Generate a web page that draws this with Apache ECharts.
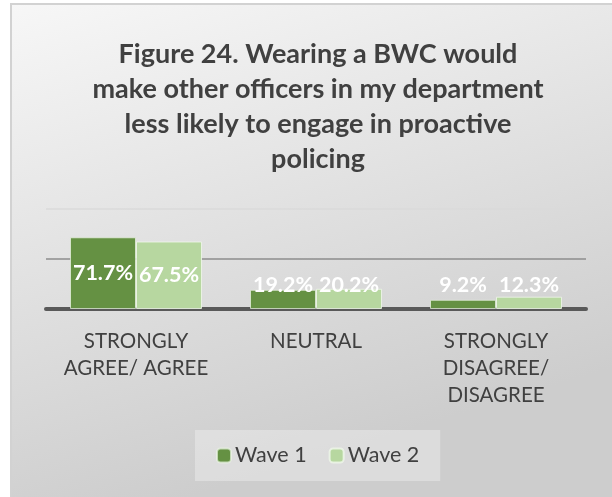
<!DOCTYPE html>
<html>
<head>
<meta charset="utf-8">
<style>
  html, body { margin: 0; padding: 0; background: #ffffff; }
  #chart { width: 612px; height: 497px; }
</style>
<script src="https://cdn.jsdelivr.net/npm/echarts@6/dist/echarts.min.js"></script>
</head>
<body>
<div id="chart"></div>
<script>
// Survey responses, percent of officers
const categories = ['STRONGLY\nAGREE/ AGREE', 'NEUTRAL', 'STRONGLY\nDISAGREE/\nDISAGREE'];
const wave1 = [71.7, 19.2, 9.2];
const wave2 = [67.5, 20.2, 12.3];
const seriesNames = ['Wave 1', 'Wave 2'];
const titleText = 'Figure 24. Wearing a BWC would\nmake other officers in my department\nless likely to engage in proactive\npolicing';

const FONT = 'Lato, "Open Sans", sans-serif';
const TEXT = '#404040';
const DARK = '#659143';
const LIGHT = '#b7d7a0';

// Tall bars carry their value in the middle; short bars get it lifted off the base.
function withLabels(values) {
  return values.map(function (v) {
    if (v > 40) {
      return { value: v, label: { position: 'inside' } };
    }
    return { value: v, label: { position: 'insideBottom', distance: 13 } };
  });
}

const barLabel = {
  show: true,
  color: '#ffffff',
  fontFamily: FONT,
  fontWeight: 'bold',
  fontSize: 21.5,
  formatter: function (p) { return p.value.toFixed(1) + '%'; }
};

const chart = echarts.init(document.getElementById('chart'), null, { renderer: 'canvas' });

chart.setOption({
  animation: false,
  backgroundColor: '#ffffff',
  graphic: [{
    type: 'rect',
    z: -10,
    silent: true,
    shape: { x: 11, y: 4, width: 610, height: 500 },
    style: {
      fill: new echarts.graphic.LinearGradient(0, 0, 0.25, 1, [
        { offset: 0, color: '#f7f7f7' },
        { offset: 1, color: '#cdcdcd' }
      ]),
      stroke: '#d2d2d2',
      lineWidth: 2
    }
  }],
  title: {
    text: titleText,
    left: 313,
    textAlign: 'center',
    top: 32,
    textStyle: {
      fontFamily: FONT,
      fontWeight: 'bold',
      fontSize: 27,
      lineHeight: 35,
      color: TEXT
    }
  },
  legend: {
    data: seriesNames,
    top: 430,
    left: 195,
    itemWidth: 14,
    itemHeight: 14,
    itemGap: 22,
    padding: [13, 21, 13, 21],
    backgroundColor: 'rgba(255,255,255,0.3)',
    textStyle: { fontFamily: FONT, fontSize: 21.5, color: TEXT, lineHeight: 25, padding: [0, 0, 0, -1] }
  },
  grid: { left: 46, right: 26, top: 209, bottom: 188 },
  xAxis: {
    type: 'category',
    data: categories,
    axisLine: { lineStyle: { color: '#595959', width: 4 } },
    axisTick: { show: false },
    axisLabel: {
      margin: 19,
      fontFamily: FONT,
      fontSize: 20.5,
      lineHeight: 27,
      color: TEXT,
      interval: 0
    }
  },
  yAxis: {
    type: 'value',
    min: 0,
    max: 100,
    interval: 50,
    axisLabel: { show: false },
    axisLine: { show: false },
    axisTick: { show: false },
    splitLine: { lineStyle: { color: ['#595959', '#8c8c8c', '#dadada'], width: 1.5 } }
  },
  series: [
    {
      name: seriesNames[0],
      type: 'bar',
      data: withLabels(wave1),
      barWidth: 66,
      barGap: '0%',
      itemStyle: { color: DARK, borderColor: 'rgba(235,245,228,0.7)', borderWidth: 1 },
      label: barLabel
    },
    {
      name: seriesNames[1],
      type: 'bar',
      data: withLabels(wave2),
      barWidth: 66,
      itemStyle: { color: LIGHT, borderColor: 'rgba(240,248,235,0.8)', borderWidth: 1 },
      label: barLabel
    }
  ]
});
</script>
</body>
</html>
